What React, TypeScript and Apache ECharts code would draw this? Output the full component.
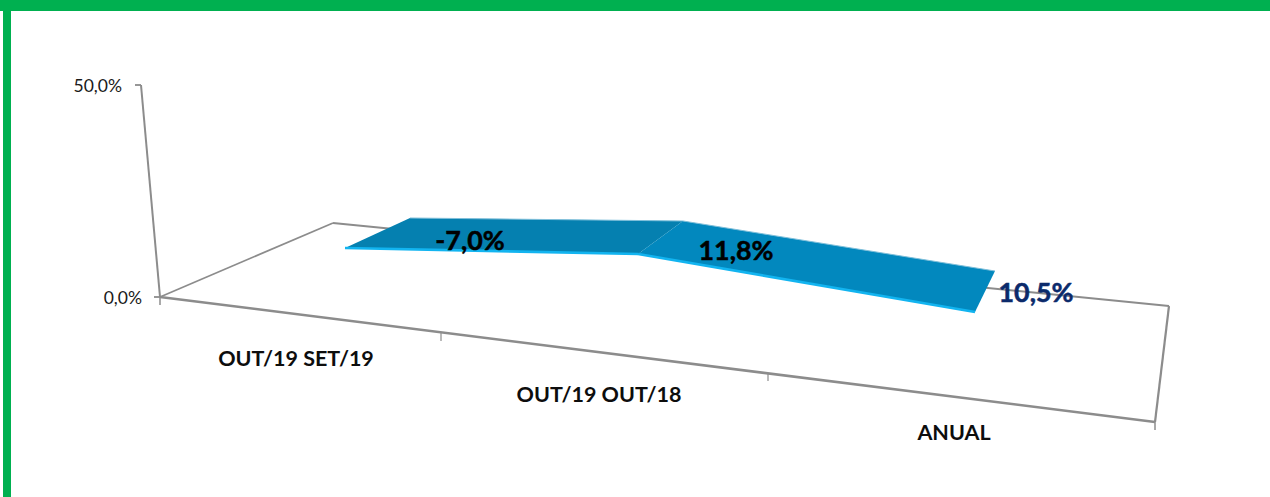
import React, { useEffect, useRef } from "react";
import * as echarts from "echarts";

// ---- data ----
const categories = ["OUT/19 SET/19", "OUT/19 OUT/18", "ANUAL"];
const values = [-7.0, 11.8, 10.5];
const valueMin = 0;
const valueMax = 50;
const valueFormat = (v: number) => v.toFixed(1).replace(".", ",") + "%";

// ---- layout of the oblique (3D-looking) projection ----
const W = 1270;
const H = 497;
const plotLeft = 329.68;
const catStep = 334.15;
const zeroY = 229.89;
const pxPerUnit = 2.587;
const shearX = 0.846; // value axis leans left
const shearY = 0.1635; // category axis falls to the right
const depthAtCategory = [[65, -30], [45, -33], [20, -41]];
const labelOffsets = [[125, -8], [98, -4], [61, -20]];
const labelColors = ["#000000", "#000000", "#0B2A6B"];
const segmentColors = ["#0580B0", "#0288BE"];
const frameColor = "#8C8C8C";

const floorLines = [
  [[141, 85], [160, 297], 2],
  [[135, 85], [141, 85], 1.8],
  [[154, 297], [160, 297], 1.8],
  [[160, 297], [333, 223], 1.7],
  [[333, 223], [1169, 306], 2],
  [[1169, 306], [1155, 422], 2.2],
  [[160, 297], [1155, 422], 2.5],
  [[160, 297], [160, 305], 1.5],
  [[441, 333], [441, 341], 1.2],
  [[768, 373], [768, 381], 1.2],
  [[1155, 422], [1155, 430], 1.5],
] as [number[], number[], number][];
const categoryLabelCenters = [[296, 358], [599, 394], [954, 432]];

function project(p: number[]) {
  return [p[0] + shearX * (p[1] - zeroY), p[1] + shearY * (p[0] - plotLeft)];
}

export default function App() {
  const ref = useRef<HTMLDivElement>(null);
  useEffect(() => {
    const chart = echarts.init(ref.current!, null, { renderer: "svg" });
    const renderItem = (params: any, api: any) => {
      const i = params.dataIndex;
      const front = project(api.coord([i, values[i]]));
      const children: any[] = [];
      if (i < values.length - 1) {
        const next = project(api.coord([i + 1, values[i + 1]]));
        const d0 = depthAtCategory[i];
        const d1 = depthAtCategory[i + 1];
        const b0 = [front[0] + d0[0], front[1] + d0[1]];
        const b1 = [next[0] + d1[0], next[1] + d1[1]];
        children.push({
          type: "polygon",
          shape: { points: [front, next, b1, b0] },
          style: { fill: segmentColors[i] },
        });
        children.push({
          type: "polyline",
          shape: { points: [b0, b1] },
          style: { stroke: "#7FBFDA", lineWidth: 1, fill: "none" },
        });
        children.push({
          type: "polyline",
          shape: { points: [front, next] },
          style: { stroke: "#12B4F0", lineWidth: 2.6, fill: "none" },
        });
      }
      children.push({
        type: "text",
        x: front[0] + labelOffsets[i][0],
        y: front[1] + labelOffsets[i][1],
        style: {
          text: valueFormat(values[i]),
          fontFamily: "Lato",
          fontWeight: "bold",
          fontSize: 26.8,
          fill: labelColors[i],
          stroke: labelColors[i],
          lineWidth: 0.5,
          align: "center",
          verticalAlign: "middle",
        },
      });
      return { type: "group", children };
    };

    chart.setOption({
      animation: false,
      backgroundColor: "#FFFFFF",
      grid: [
        {
          left: plotLeft,
          width: catStep * (categories.length - 1),
          top: zeroY - 50 * pxPerUnit,
          height: 100 * pxPerUnit,
        },
        { left: 143, width: 20, top: 85, height: 212 },
      ],
      xAxis: [
        { type: "category", data: categories, boundaryGap: false, gridIndex: 0, show: false },
        { type: "value", gridIndex: 1, show: false },
      ],
      yAxis: [
        { type: "value", min: -50, max: 50, gridIndex: 0, show: false },
        {
          type: "value",
          gridIndex: 1,
          min: valueMin,
          max: valueMax,
          interval: valueMax,
          axisLine: { show: false },
          axisTick: { show: false },
          splitLine: { show: false },
          axisLabel: {
            margin: 1,
            formatter: (v: number) => `{${v === valueMax ? "top" : "low"}|${valueFormat(v)}}`,
            rich: {
              top: { fontFamily: "Lato", fontSize: 17.5, color: "#1A1A1A", padding: [0, 20, 0, 0] },
              low: { fontFamily: "Lato", fontSize: 17.5, color: "#1A1A1A" },
            },
          },
        },
      ],
      series: [
        {
          type: "custom",
          xAxisIndex: 0,
          yAxisIndex: 0,
          clip: false,
          z: 5,
          data: values.map((v, i) => [i, v]),
          encode: { x: 0, y: 1 },
          renderItem,
          silent: true,
        },
      ],
      graphic: [
        { type: "rect", z: 10, silent: true, shape: { x: 0, y: 0, width: W, height: 11 }, style: { fill: "#00B050" } },
        { type: "rect", z: 10, silent: true, shape: { x: 3, y: 0, width: 8, height: H }, style: { fill: "#00B050" } },
        ...floorLines.map(([a, b, w]) => ({
          type: "line",
          z: 1,
          silent: true,
          shape: { x1: a[0], y1: a[1], x2: b[0], y2: b[1] },
          style: { stroke: frameColor, lineWidth: w },
        })),
        ...categories.map((c, i) => ({
          type: "text",
          z: 1,
          silent: true,
          x: categoryLabelCenters[i][0],
          y: categoryLabelCenters[i][1],
          style: {
            text: c,
            fontFamily: "Lato",
            fontWeight: "bold",
            fontSize: 21.5,
            fill: "#0D0D0D",
            align: "center",
            verticalAlign: "middle",
          },
        })),
      ],
    });
    return () => chart.dispose();
  }, []);
  return (
    <div
      ref={ref}
      style={{ position: "absolute", left: 0, top: 0, width: W, height: H }}
    />
  );
}
